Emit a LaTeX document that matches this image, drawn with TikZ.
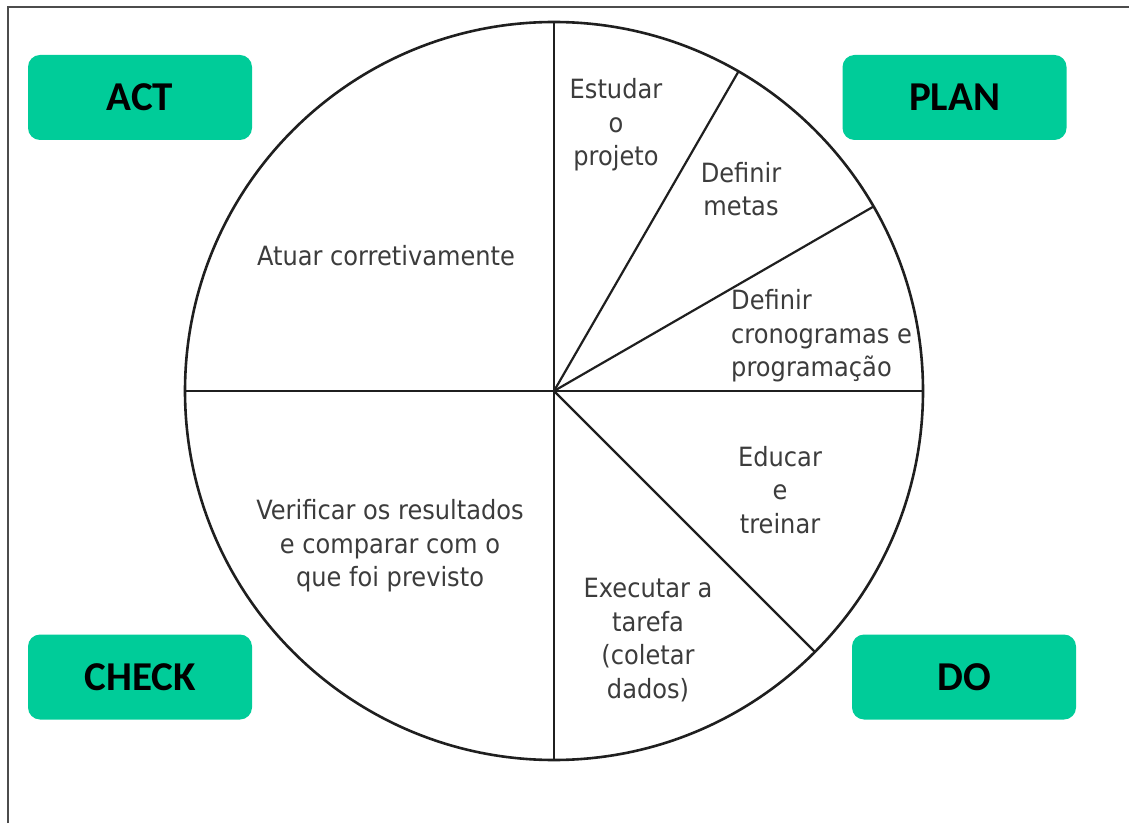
\documentclass[tikz,border=0pt]{standalone}
\usepackage{fontspec}
\newfontfamily\wedgefont{DejaVu Sans}[FakeStretch=0.91]
\newfontfamily\labelfont{Carlito}
\usetikzlibrary{calc}
\definecolor{pdcagreen}{RGB}{0,204,153}
\definecolor{wedgetext}{RGB}{60,60,60}
\tikzset{
  phasebox/.style={fill=pdcagreen, rounded corners=12pt, minimum width=224pt, minimum height=85pt,
    inner sep=0pt, font=\labelfont\bfseries\fontsize{41}{46}\selectfont, text=black},
  wedgelabel/.style={font=\wedgefont\fontsize{26.5}{33.5}\selectfont, text=wedgetext, inner sep=0pt},
  wheel/.style={line width=2.6pt, draw=black!88},
  spoke/.style={line width=2.2pt, draw=black!88},
  frameline/.style={line width=1.6pt, draw=black!70}
}
\begin{document}
\begin{tikzpicture}[x=1pt,y=1pt]
\useasboundingbox (0,0) rectangle (1129,823);
% frame
\coordinate (ftl) at (8,816);
\coordinate (ftr) at (1129,816);
\coordinate (fbl) at (8,0);
\draw[frameline] (fbl) -- (ftl) -- (ftr);
% wheel
\coordinate (c) at (554,432);
\draw[wheel] (c) circle[radius=369pt];
\coordinate (p90) at ($(c)+(90:369pt)$);
\coordinate (p60) at ($(c)+(60:369pt)$);
\coordinate (p30) at ($(c)+(30:369pt)$);
\coordinate (p0) at ($(c)+(0:369pt)$);
\coordinate (pm45) at ($(c)+(-45:369pt)$);
\coordinate (pm90) at ($(c)+(-90:369pt)$);
\coordinate (p180) at ($(c)+(180:369pt)$);
\draw[spoke] (p90) -- (pm90);
\draw[spoke] (p180) -- (p0);
\draw[spoke] (c) -- (p60);
\draw[spoke] (c) -- (p30);
\draw[spoke] (c) -- (pm45);
% phase boxes
\node[phasebox] (act) at (140,725.5) {ACT};
\node[phasebox] (plan) at (954.5,725.5) {PLAN};
\node[phasebox] (check) at (140,146) {CHECK};
\node[phasebox] (do) at (964,146) {DO};
% wedge texts
\node[wedgelabel, align=center] (estudar) at (616,698) {Estudar\\o\\projeto};
\node[wedgelabel, align=center] (metas) at (741,634) {Definir\\metas};
\node[wedgelabel, align=left, anchor=west] (crono) at (731,487) {Definir\\cronogramas e\\programação};
\node[wedgelabel, align=center] (educar) at (780,333) {Educar\\e\\treinar};
\node[wedgelabel, align=center] (executar) at (648,183) {Executar a\\tarefa\\(coletar\\dados)};
\node[wedgelabel, align=center] (atuar) at (386,567) {Atuar corretivamente};
\node[wedgelabel, align=center] (verificar) at (390,277) {Verificar os resultados\\e comparar com o\\que foi previsto};
\end{tikzpicture}
\end{document}
